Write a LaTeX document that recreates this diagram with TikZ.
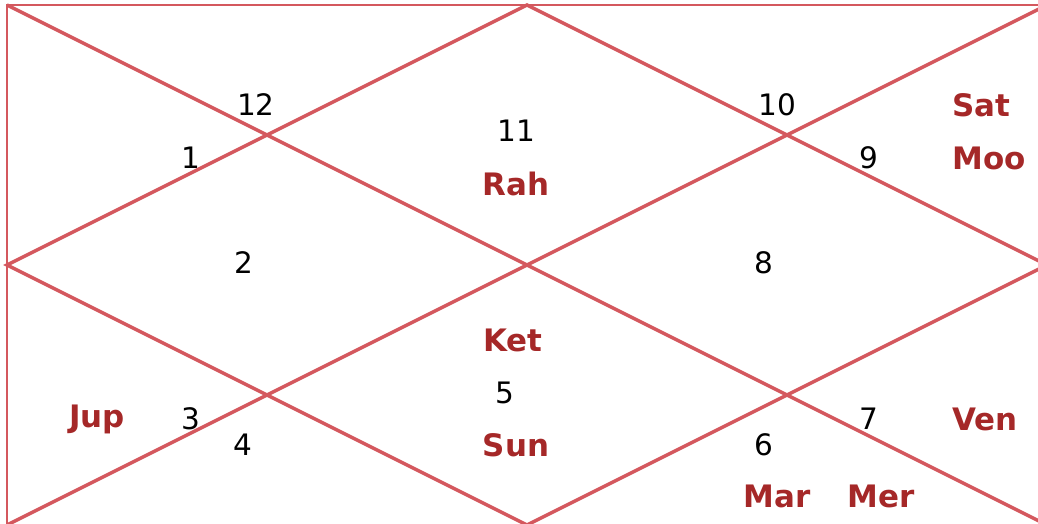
\documentclass[tikz,border=0pt]{standalone}
\usepackage{fontspec}
\setmainfont{DejaVu Sans}
\usepackage{tikz}
\usetikzlibrary{positioning}
\definecolor{chartline}{RGB}{212,88,94}
\definecolor{planetred}{RGB}{165,40,40}

\begin{document}
\begin{tikzpicture}[x=0.025cm, y=-0.025cm,
    num/.style={font=\fontsize{21}{24}\selectfont, text=black, inner sep=0pt},
    planet/.style={font=\fontsize{22}{26}\selectfont\bfseries, text=planetred, inner sep=0pt}]
    \useasboundingbox (0,0) rectangle (1038,524);
    \clip (0,0) rectangle (1038,524);

    % chart frame and lines
    \coordinate (tl) at (7,5);
    \coordinate (tr) at (1047,5);
    \coordinate (br) at (1047,525);
    \coordinate (bl) at (7,525);
    \coordinate (tm) at (527,5);
    \coordinate (rm) at (1047,265);
    \coordinate (bm) at (527,525);
    \coordinate (lm) at (7,265);
    \draw[chartline, line width=1.6pt] (tl) -- (tr) -- (br) -- (bl) -- cycle;
    \draw[chartline, line width=2.4pt] (tl) -- (br);
    \draw[chartline, line width=2.4pt] (bl) -- (tr);
    \draw[chartline, line width=2.4pt] (lm) -- (tm) -- (rm) -- (bm) -- cycle;

    % house numbers
    \node[num] (h12) at (256,105) {12};
    \node[num] (h1) at (191,158) {1};
    \node[num] (h11) at (516,131) {11};
    \node[num] (h10) at (777,105) {10};
    \node[num] (h9) at (869,158) {9};
    \node[num] (h2) at (244,263) {2};
    \node[num] (h8) at (764,263) {8};
    \node[num] (h5) at (505,393) {5};
    \node[num] (h3) at (191,419) {3};
    \node[num] (h4) at (243,445) {4};
    \node[num] (h7) at (869,419) {7};
    \node[num] (h6) at (764,445) {6};

    % planets
    \node[planet] (rah) at (516,184) {Rah};
    \node[planet] (sat) at (981,105) {Sat};
    \node[planet] (moo) at (989,158) {Moo};
    \node[planet] (ket) at (513,340) {Ket};
    \node[planet] (sun) at (516,445) {Sun};
    \node[planet] (jup) at (97,419) {Jup};
    \node[planet] (ven) at (985,419) {Ven};
    \node[planet] (mar) at (777,496) {Mar};
    \node[planet] (mer) at (881,496) {Mer};
\end{tikzpicture}
\end{document}
